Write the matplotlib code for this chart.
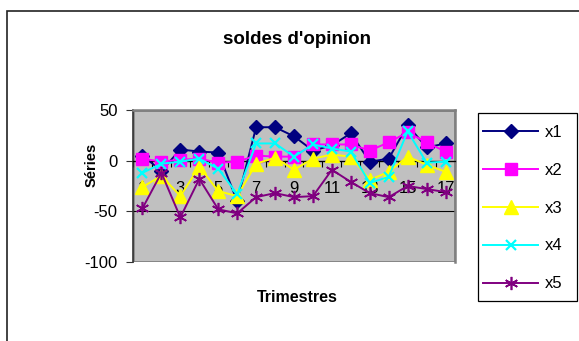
import numpy as np
import matplotlib
matplotlib.use("Agg")
import matplotlib.pyplot as plt
from matplotlib.patches import Rectangle

plt.rcParams['font.family'] = ['Liberation Sans', 'DejaVu Sans']
plt.rcParams['axes.unicode_minus'] = False

# data
trimestres = list(range(1, 18))
x1 = [5, -10, 11, 9, 8, -40, 33, 33, 24, 10, 15, 27, -1, 2, 35, 13, 17]
x2 = [2, -1, 1, 2, -2, -1, 5, 4, 4, 16, 16, 16, 10, 18, 28, 18, 9]
x3 = [-26, -15, -35, -6, -30, -35, -3, 3, -9, 2, 6, 4, -19, -11, 4, -4, -11]
x4 = [-12, -3, -1, 2, -8, -33, 17, 17, 4, 16, 12, 9, -22, -16, 29, -2, -1]
x5 = [-47, -12, -56, -18, -48, -52, -36, -32, -36, -35, -9, -21, -32, -36, -25, -28, -31]
tick_labels = [str(t) for t in trimestres[::2]]

W, H = 579, 341
fig = plt.figure(figsize=(W / 100, H / 100), dpi=100)

# outer chart border (right and bottom edges fall outside the image)
fig.patches.append(Rectangle((7 / W, -0.2), 1.2, 1 - 11 / H + 0.2,
                             transform=fig.transFigure, fill=False,
                             edgecolor='#222222', lw=1.2))

left, right, top, bottom = 133, 455, 110, 262
ax = fig.add_axes([left / W, 1 - bottom / H, (right - left) / W, (bottom - top) / H])
ax.set_facecolor('#C0C0C0')

series = [
    ('x1', x1, '#000080', dict(marker='D', ms=7)),
    ('x2', x2, '#FF00FF', dict(marker='s', ms=8.5)),
    ('x3', x3, '#FFFF00', dict(marker='^', ms=9.5)),
    ('x4', x4, '#00FFFF', dict(marker='x', ms=7.5, mew=1.6)),
    ('x5', x5, '#800080', dict(marker=(6, 2, 0), ms=9.5, mew=1.2)),
]
for name, vals, col, mk in series:
    ax.plot(trimestres, vals, color=col, lw=1.4, mec=col, mfc=col,
            label=name, zorder=3, **mk)

ax.set_xlim(0.5, 17.5)
ax.set_ylim(-100, 50)
ax.set_yticks([-100, -50, 0, 50])
ax.yaxis.grid(True, color='black', lw=0.8)
ax.set_axisbelow(True)
ax.tick_params(axis='y', direction='out', length=5, labelsize=12, pad=6, color='#333333')

# category axis crosses at zero
ax.spines['bottom'].set_position(('data', 0))
ax.spines['bottom'].set_color('black')
ax.spines['bottom'].set_linewidth(0.9)
ax.set_xticks(np.arange(0.5, 18, 1))
ax.set_xticklabels([])
ax.tick_params(axis='x', which='major', direction='out', length=4, color='black')
ax.set_xticks(trimestres[::2], minor=True)
ax.set_xticklabels(tick_labels, minor=True)
ax.tick_params(axis='x', which='minor', length=0, labelsize=12, pad=15)

for s in ['top', 'right']:
    ax.spines[s].set_color('#808080')
    ax.spines[s].set_linewidth(1.8)
ax.spines['left'].set_color('#333333')
ax.spines['left'].set_linewidth(1.2)
ax.add_patch(Rectangle((0, 0), 1, 1, transform=ax.transAxes, fill=False,
                       edgecolor='#808080', lw=1.8, zorder=0.5))

fig.text(297 / W, 1 - 40 / H, "soldes d'opinion", ha='center', va='center',
         fontsize=13.5, fontweight='bold')
fig.text(92 / W, 1 - 165 / H, 'Séries', ha='center', va='center',
         rotation=90, fontsize=10.5, fontweight='bold')
fig.text(297 / W, 1 - 298 / H, 'Trimestres', ha='center', va='center',
         fontsize=11.5, fontweight='bold')

# legend: entries without frame, frame drawn separately
leg = fig.legend(loc='upper left', bbox_to_anchor=(483 / W, 1 - 125 / H),
                 fontsize=12, frameon=False, handlelength=3.3,
                 labelspacing=1.37, borderpad=0, handletextpad=0.4,
                 borderaxespad=0)
fig.patches.append(Rectangle((478 / W, 1 - 301 / H), 99 / W, 188 / H,
                             transform=fig.transFigure, fill=False,
                             edgecolor='black', lw=0.9))

fig.savefig('out.png', dpi=100)
